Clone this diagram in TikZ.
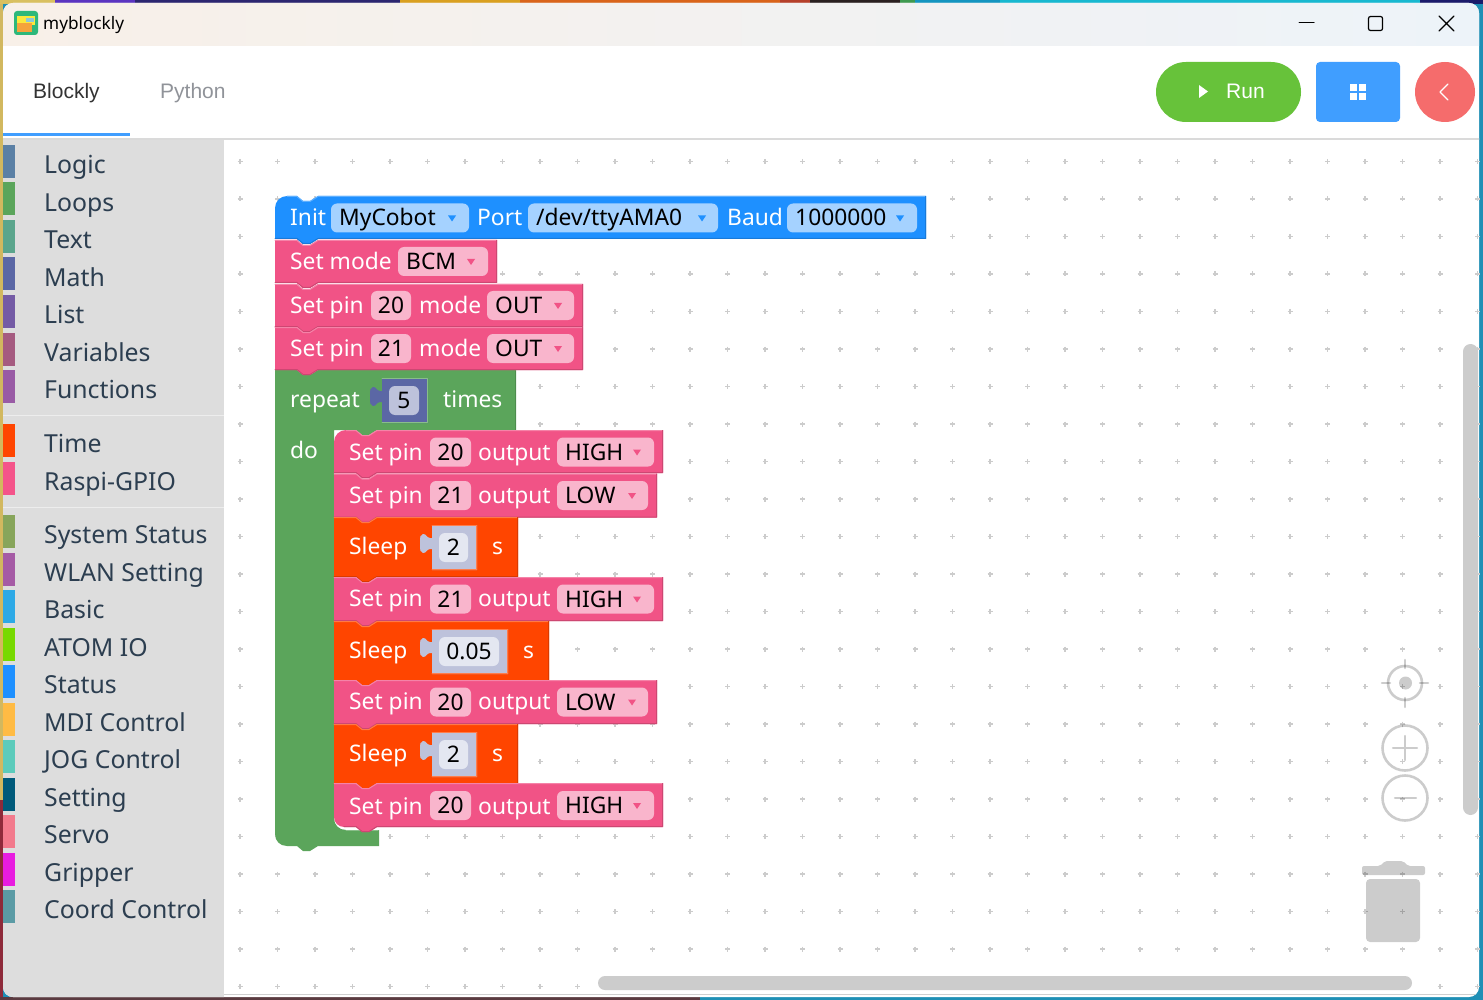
\documentclass[tikz,border=0pt]{standalone}
\usepackage{fontspec}
\setmainfont{Noto Sans}
\newfontfamily\webfont{Liberation Sans}
\definecolor{pinkb}{HTML}{F15386}
\definecolor{pinkf}{HTML}{F9B5CC}
\definecolor{blueb}{HTML}{1E90FF}
\definecolor{bluef}{HTML}{A5D2FF}
\definecolor{greenb}{HTML}{5BA55B}
\definecolor{sleepb}{HTML}{FF4500}
\definecolor{mathb}{HTML}{5B67A5}
\definecolor{mathf}{HTML}{BDC2DB}
\definecolor{sleepf}{HTML}{E4E7F1}
\definecolor{menutxt}{HTML}{2C3E50}
\definecolor{elblue}{HTML}{409EFF}
\definecolor{elgreen}{HTML}{67C23A}
\definecolor{elred}{HTML}{F56C6C}
\definecolor{elgray}{HTML}{909399}
\definecolor{deskblue}{HTML}{1F8FB5}
\definecolor{deskgold}{HTML}{D2B85F}
\definecolor{deskred}{HTML}{8E2A3A}
\definecolor{deskdark}{HTML}{5A3A40}
\definecolor{panel}{HTML}{DDDDDD}
\definecolor{panelline}{HTML}{EDEDED}
\definecolor{rulegray}{HTML}{DADADA}
\definecolor{barline}{HTML}{CFCFCF}
\definecolor{dotgray}{HTML}{CCCCCC}
\definecolor{icongreen}{HTML}{2DB87A}
\definecolor{iconyellow}{HTML}{FBE83C}
\definecolor{iconblue}{HTML}{8CC8D8}
\definecolor{iconorange}{HTML}{F5A33C}
\tikzset{
	lbl/.style={anchor=base west,inner sep=0pt,text=white,font=\fontsize{22.8}{27}\selectfont},
	fldtxt/.style={anchor=base west,inner sep=0pt,text=black,font=\fontsize{22.8}{27}\selectfont},
	numtxt/.style={anchor=base,inner sep=0pt,text=black,font=\fontsize{22.8}{27}\selectfont},
	webtxt/.style={anchor=base west,inner sep=0pt,font=\webfont\fontsize{21}{25}\selectfont},
	ctrl/.style={draw=black,draw opacity=0.2,line width=2.6pt},
}
% x left, y top, x right, y bottom, colour, corner top left, corner bottom left
\newcommand{\stackblock}[7]{
	\fill[#5] (#1,#2+#6) .. controls (#1,#2+0.45*#6) and (#1+0.45*#6,#2) .. (#1+#6+0.01,#2) -- (#1+22,#2) -- (#1+28,#2+5) -- (#1+35,#2+5) -- (#1+43,#2) -- (#3,#2) -- (#3,#4) -- (#1+43,#4) -- (#1+35,#4+5) -- (#1+28,#4+5) -- (#1+22,#4) -- (#1+#7+0.01,#4) .. controls (#1+0.45*#7,#4) and (#1,#4-0.45*#7) .. (#1,#4-#7) -- cycle;
	\draw[#5!72!white,line width=1pt] (#1+#6+0.01,#2+0.5) -- (#1+22,#2+0.5) -- (#1+28,#2+5.5) -- (#1+35,#2+5.5) -- (#1+43,#2+0.5) -- (#3-0.5,#2+0.5);
	\draw[#5!85!black,line width=1pt] (#3-0.5,#2+0.5) -- (#3-0.5,#4-0.5) -- (#1+43,#4-0.5) -- (#1+35,#4+4.5) -- (#1+28,#4+4.5) -- (#1+22,#4-0.5) -- (#1+#7+0.01,#4-0.5);
}
% name, x left, x right, arrow x, y top, text, field colour, arrow colour
\newcommand{\ddfield}[8]{
	\fill[#7,rounded corners=6pt] (#2,#5) rectangle (#3,#5+29);
	\node[fldtxt] (#1) at (#2+8,#5+22.5) {#6};
	\fill[#8] (#4-4,#5+12) -- (#4+4,#5+12) -- (#4,#5+18) -- cycle;
}
% name, x left, x right, y top, text, field colour
\newcommand{\numfield}[6]{
	\fill[#6,rounded corners=6pt] (#2,#4) rectangle (#3,#4+29);
	\node[numtxt] (#1) at ({(#2+#3)/2},#4+22.5) {#5};
}
% name, x left, x right, y top, text, socket colour, field colour, edge colour
\newcommand{\valblock}[8]{
	\fill[#6] (#2,#4) -- (#3,#4) -- (#3,#4+45) -- (#2,#4+45) -- (#2,#4+24) -- (#2-2,#4+24) .. controls (#2-5,#4+24) and (#2-6,#4+28.5) .. (#2-9,#4+28) .. controls (#2-12,#4+27) and (#2-12,#4+25) .. (#2-12,#4+22) -- (#2-12,#4+15) .. controls (#2-12,#4+12) and (#2-12,#4+10) .. (#2-9,#4+9) .. controls (#2-6,#4+8.5) and (#2-5,#4+13) .. (#2-2,#4+13) -- (#2,#4+13) -- cycle;
	\draw[#8,line width=1pt] (#2,#4+0.5) -- (#3-0.5,#4+0.5) -- (#3-0.5,#4+44.5) -- (#2,#4+44.5);
	\numfield{#1}{#2+7}{#3-9}{#4+8}{#5}{#7}
}
% name prefix, y top, pin, x of value-field end, word, arrow x
\newcommand{\outrow}[6]{
	\stackblock{334}{#2}{#4+9}{#2+44}{pinkb}{0}{0}
	\node[lbl] (#1a) at (349,#2+29.5) {Set pin};
	\numfield{#1b}{430}{471}{#2+7.5}{#3}{pinkf}
	\node[lbl] (#1c) at (478,#2+29.5) {output};
	\ddfield{#1d}{557}{#4}{#6}{#2+7.5}{#5}{pinkf}{pinkb}
}
% name prefix, y top, x right, value end, value, s x
\newcommand{\sleeprow}[6]{
	\stackblock{334}{#2}{#3}{#2+60}{sleepb}{0}{0}
	\node[lbl] (#1a) at (349,#2+37) {Sleep};
	\valblock{#1b}{432}{#4}{#2+8}{#5}{mathf}{sleepf}{sleepb!70!white}
	\node[lbl] (#1c) at (#6,#2+37) {s};
}
\begin{document}
\begin{tikzpicture}[x=1pt,y=-1pt,line join=round,line cap=round]
	\useasboundingbox (0,0) rectangle (1483,1000);
	% desktop behind the window
	\fill[deskblue] (0,0) rectangle (1483,1000);
	\fill[deskgold] (0,0) rectangle (3,800);
	\fill[deskred] (0,800) rectangle (3,1000);
	\fill[deskdark] (0,997) rectangle (700,1000);
	\foreach \xa/\xb/\colr in {0/55/D9C060,55/135/5B35C0,135/400/2C2670,400/520/D9A020,520/780/D9641A,780/810/B5402A,810/900/2A2020,900/915/3F9A50,915/1000/1595C0,1000/1420/18B8D0,1420/1483/1B1B6B}{
		\definecolor{wallc}{HTML}{\colr}
		\fill[wallc] (\xa,0) rectangle (\xb,4);
	}
	\begin{scope}
		\clip[rounded corners=10pt] (3,3) rectangle (1479,997);
		\fill[white] (0,0) rectangle (1483,1000);
		\shade[left color={rgb,255:red,248;green,240;blue,232},middle color={rgb,255:red,249;green,238;blue,243},right color={rgb,255:red,237;green,243;blue,249}] (0,0) rectangle (1483,46);
		\fill[panel] (3,140) rectangle (224,1000);
		\fill[rulegray] (3,138) rectangle (1483,140);
		\fill[barline] (224,994) rectangle (1483,995);
	\end{scope}
	% title bar
	\fill[icongreen,rounded corners=3pt] (14,11) rectangle (38,35);
	\fill[iconyellow] (17,16) rectangle (35,25);
	\fill[iconblue] (26,18) rectangle (34,22);
	\fill[iconorange] (17,23) rectangle (32,32);
	\node[anchor=base west,inner sep=0pt,font=\fontsize{17.2}{21}\selectfont] (apptitle) at (43,30) {myblockly};
	\draw[line width=1pt] (1299,23) -- (1314,23);
	\draw[line width=1.2pt,rounded corners=2pt] (1368.5,16.5) rectangle (1382.5,30.5);
	\draw[line width=1.1pt] (1439,16) -- (1454,31) (1454,16) -- (1439,31);
	% tabs and buttons
	\node[webtxt,text=black!80] (tabblockly) at (33,99) {Blockly};
	\node[webtxt,text=elgray] (tabpython) at (160,99) {Python};
	\fill[elblue] (3,133) rectangle (130,136);
	\fill[elgreen,rounded corners=30pt] (1156,62) rectangle (1301,122);
	\fill[white] (1199,85) -- (1208,91.5) -- (1199,98) -- cycle;
	\node[webtxt,text=white] (runlbl) at (1226,99) {Run};
	\fill[elblue,rounded corners=4pt] (1316,62) rectangle (1400,122);
	\foreach \gx in {1350,1359}{
		\foreach \gy in {84,93}{
			\fill[white] (\gx,\gy) rectangle (\gx+7,\gy+7);
		}
	}
	\fill[elred] (1445,92) circle (30);
	\draw[white,line width=1.2pt] (1448,84) -- (1440,92) -- (1448,100);
	% toolbox
	\foreach \ytop/\colr/\txt [count=\i] in {145/5B80A5/Logic,182.5/5BA55B/Loops,220/5BA58C/Text,257.5/5B67A5/Math,295/745BA5/List,332.5/A55B80/Variables,370/995BA5/Functions,424/FF4500/Time,461.5/F4548A/Raspi-GPIO,515/87A55B/System Status,552.5/A55BA5/WLAN Setting,590/2DA9E6/Basic,627.5/77D900/ATOM IO,665/1E90FF/Status,702.5/FFBB44/MDI Control,740/5CCBBB/JOG Control,777.5/005A7A/Setting,815/F27A8C/Servo,852.5/E81CE0/Gripper,890/5B9BA5/Coord Control}{
		\definecolor{catc}{HTML}{\colr}
		\fill[catc] (3,\ytop) rectangle (15,\ytop+33);
		\node[anchor=base west,inner sep=0pt,text=menutxt,font=\fontsize{24.8}{29}\selectfont] (cat\i) at (44,\ytop+28.6) {\txt};
	}
	\fill[panelline] (3,415) rectangle (224,416);
	\fill[panelline] (3,507) rectangle (224,508);
	% grid of the workspace
	\foreach \kx in {0,...,33}{
		\foreach \ky in {0,...,22}{
			\draw[dotgray,line width=1.3pt,line cap=butt] (240+37.5*\kx-2.5,161.5+37.5*\ky) -- ++(5,0) (240+37.5*\kx,161.5+37.5*\ky-2.5) -- ++(0,5);
		}
	}
	% controls
	\draw[ctrl] (1405,683) circle (17);
	\fill[black,opacity=0.2] (1405.5,683) circle (6.5);
	\draw[ctrl] (1405,660) -- (1405,668) (1405,698) -- (1405,707) (1382,683) -- (1390,683) (1420,683) -- (1428,683);
	\draw[ctrl] (1405,748) circle (22.5);
	\draw[ctrl,line width=2.2pt] (1393,748) -- (1417,748) (1405,736) -- (1405,760);
	\draw[ctrl] (1405,798) circle (22.5);
	\draw[ctrl,line width=2.2pt] (1395,798) -- (1416,798);
	\fill[black,opacity=0.2,rounded corners=2pt] (1380,866) -- (1385,861) -- (1403,861) -- (1408,866) -- (1425,866) -- (1425,875) -- (1362,875) -- (1362,866) -- cycle;
	\fill[black,opacity=0.2,rounded corners=4pt] (1366,879) -- (1420,879) -- (1420,942) -- (1366,942) -- cycle;
	% scrollbars
	\fill[dotgray,rounded corners=7.5pt] (1463,344) rectangle (1478,815);
	\fill[dotgray,rounded corners=7pt] (598,976) rectangle (1412,990);
	% loop block
	\fill[greenb] (275,370) -- (297,370) -- (303,375) -- (310,375) -- (318,370) -- (516,370) -- (516,430) -- (377,430) -- (369,435) -- (362,435) -- (356,430) -- (334,430) -- (334,818) .. controls (334,825) and (339,830) .. (346,830) -- (379,830) -- (379,846) -- (318,846) -- (310,851) -- (303,851) -- (297,846) -- (287,846) .. controls (280,846) and (275,841) .. (275,834) -- cycle;
	\draw[greenb!72!white,line width=1pt] (346,830.5) -- (378,830.5);
	\draw[greenb!85!black,line width=1pt] (515.5,371) -- (515.5,430);
	% top stack
	\stackblock{275}{196}{926}{239}{blueb}{12}{0}
	\node[lbl] (initlbl) at (290,226) {Init};
	\ddfield{robotfld}{331}{469}{452}{203.5}{MyCobot}{bluef}{blueb}
	\node[lbl] (portlbl) at (477,226) {Port};
	\ddfield{portfld}{528}{718}{702}{203.5}{/dev/ttyAMA0}{bluef}{blueb}
	\node[lbl] (baudlbl) at (727,226) {Baud};
	\ddfield{baudfld}{787}{917}{900}{203.5}{1000000}{bluef}{blueb}
	\stackblock{275}{240}{497}{283}{pinkb}{0}{0}
	\node[lbl] (modelbl) at (290,269.5) {Set mode};
	\ddfield{modefld}{398}{488}{471}{247}{BCM}{pinkf}{pinkb}
	\foreach \ytop/\pin [count=\i] in {284/20,327/21}{
		\stackblock{275}{\ytop}{583}{\ytop+43}{pinkb}{0}{0}
		\node[lbl] (pinlbl\i) at (290,\ytop+29) {Set pin};
		\numfield{pinfld\i}{371}{411}{\ytop+7}{\pin}{pinkf}
		\node[lbl] (pinmode\i) at (419,\ytop+29) {mode};
		\ddfield{pinout\i}{487}{574}{558}{\ytop+7}{OUT}{pinkf}{pinkb}
	}
	% repeat header
	\node[lbl] (replbl) at (290,407.5) {repeat};
	\valblock{repval}{382}{428}{378}{5}{mathb}{mathf}{greenb!72!white}
	\node[lbl] (timeslbl) at (443,407.5) {times};
	\node[lbl] (dolbl) at (290,458) {do};
	% inner stack
	\stackblock{334}{430}{663}{473}{pinkb}{12}{0}
	\node[lbl] (rowAa) at (349,460) {Set pin};
	\numfield{rowAb}{430}{471}{437.5}{20}{pinkf}
	\node[lbl] (rowAc) at (478,460) {output};
	\ddfield{rowAd}{557}{654}{637}{437.5}{HIGH}{pinkf}{pinkb}
	\outrow{rowB}{473.5}{21}{648}{LOW}{632}
	\sleeprow{rowC}{517}{518}{477}{2}{492}
	\outrow{rowD}{577}{21}{654}{HIGH}{637}
	\sleeprow{rowE}{621}{549}{508}{0.05}{523}
	\outrow{rowF}{680}{20}{648}{LOW}{632}
	\sleeprow{rowG}{724}{518}{477}{2}{492}
	\stackblock{334}{783}{663}{827}{pinkb}{0}{10}
	\node[lbl] (rowHa) at (349,814) {Set pin};
	\numfield{rowHb}{430}{471}{791}{20}{pinkf}
	\node[lbl] (rowHc) at (478,814) {output};
	\ddfield{rowHd}{557}{654}{637}{791}{HIGH}{pinkf}{pinkb}
\end{tikzpicture}
\end{document}
